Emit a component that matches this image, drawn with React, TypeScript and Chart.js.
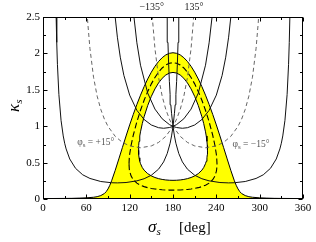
import React, { useEffect, useRef } from "react";
import { Chart, registerables } from "chart.js";

Chart.register(...registerables);

// ---- axis ticks ----
const xTickValues = [0, 60, 120, 180, 240, 300, 360];
const xTickLabels = ["0", "60", "120", "180", "240", "300", "360"];
const yTickValues = [0, 0.5, 1, 1.5, 2, 2.5];
const yTickLabels = ["0", "0.5", "1", "1.5", "2", "2.5"];
const xMarkValues = [0, 30, 60, 90, 120, 150, 180, 210, 240, 270, 300, 330, 360];
const yMarkValues = [0, 0.25, 0.5, 0.75, 1, 1.25, 1.5, 1.75, 2, 2.25, 2.5];

// ---- yellow band: outer edge ----
const outerSigma = [0, 30, 40, 50, 60, 70, 75, 80, 85, 87.5, 90, 92.5, 95, 100, 105, 110, 115, 120, 125, 130, 135, 140, 145, 150, 155, 160, 165, 170, 175, 180,
  185, 190, 195, 200, 205, 210, 215, 220, 225, 230, 235, 240, 245, 250, 255, 260, 265, 267.5, 270, 272.5, 275, 280, 285, 290, 300, 310, 320, 330, 360];
const outerKappa = [0.010, 0.012, 0.013, 0.016, 0.020, 0.028, 0.036, 0.051, 0.079, 0.105, 0.142, 0.192, 0.254, 0.398, 0.554, 0.712, 0.868, 1.020, 1.164, 1.301, 1.428, 1.545, 1.651, 1.744, 1.824, 1.890, 1.942, 1.980, 2.002, 2.010,
  2.002, 1.980, 1.942, 1.890, 1.824, 1.744, 1.651, 1.545, 1.428, 1.301, 1.164, 1.020, 0.868, 0.712, 0.554, 0.398, 0.254, 0.192, 0.142, 0.105, 0.079, 0.051, 0.036, 0.028, 0.020, 0.016, 0.013, 0.012, 0.010];

// ---- yellow band: inner edge (upper and lower halves) ----
const innerSigma = [132.27, 132.5, 133, 134, 135, 137.5, 140, 145, 150, 155, 160, 165, 170, 175, 180, 185, 190, 195, 200, 205, 210, 215, 220, 222.5, 225, 226, 227, 227.5, 227.73];
const innerKappaHigh = [0.6726, 0.7388, 0.7947, 0.8685, 0.9253, 1.0393, 1.1326, 1.2867, 1.4115, 1.5138, 1.5959, 1.6592, 1.7041, 1.7310, 1.74, 1.7310, 1.7041, 1.6592, 1.5959, 1.5138, 1.4115, 1.2867, 1.1326, 1.0393, 0.9253, 0.8685, 0.7947, 0.7388, 0.6726];
const innerKappaLow = [0.6726, 0.6124, 0.5693, 0.5209, 0.4889, 0.4353, 0.3994, 0.3517, 0.3205, 0.2988, 0.2835, 0.2726, 0.2655, 0.2614, 0.26, 0.2614, 0.2655, 0.2726, 0.2835, 0.2988, 0.3205, 0.3517, 0.3994, 0.4353, 0.4889, 0.5209, 0.5693, 0.6124, 0.6726];

// ---- dashed central value (closed loop) ----
const midSigma = [119.07, 119.5, 120, 122, 125, 130, 135, 140, 145, 150, 155, 160, 165, 170, 175, 180, 185, 190, 195, 200, 205, 210, 215, 220, 225, 230, 235, 238, 240, 240.5, 240.93,
  240.5, 240, 238, 235, 230, 225, 220, 215, 210, 205, 200, 195, 190, 185, 180, 175, 170, 165, 160, 155, 150, 145, 140, 135, 130, 125, 122, 120, 119.5, 119.07];
const midKappa = [0.4859, 0.5724, 0.6179, 0.7413, 0.8784, 1.0636, 1.2208, 1.3582, 1.4787, 1.5829, 1.6713, 1.7440, 1.8007, 1.8414, 1.8659, 1.874, 1.8659, 1.8414, 1.8007, 1.7440, 1.6713, 1.5829, 1.4787, 1.3582, 1.2208, 1.0636, 0.8784, 0.7413, 0.6179, 0.5724, 0.4859,
  0.4124, 0.3821, 0.3185, 0.2688, 0.2220, 0.1934, 0.1738, 0.1597, 0.1491, 0.1413, 0.1354, 0.1311, 0.1282, 0.1265, 0.126, 0.1265, 0.1282, 0.1311, 0.1354, 0.1413, 0.1491, 0.1597, 0.1738, 0.1934, 0.2220, 0.2688, 0.3185, 0.3821, 0.4124, 0.4859];

// ---- constant-phase curves (solid) ----
const phaseAKappa = [3.225, 2.581, 2.152, 1.846, 1.438, 1.082, 0.869, 0.769, 0.691, 0.553, 0.425, 0.336, 0.286, 0.244, 0.227, 0.225, 0.230, 0.253, 0.282, 0.330, 0.413, 0.513, 0.628, 0.769, 0.869, 1.0, 1.179, 1.296, 1.438, 1.616, 1.846, 2.152, 2.581, 3.225];
const phaseALeftSigma = [17, 18, 19, 20, 22, 25, 28, 30, 32, 37, 45, 55, 65, 80, 95, 103, 115, 130, 140, 150, 160, 167, 172, 176, 178, 180, 182, 183, 184, 185, 186, 187, 188, 189];
const phaseARightSigma = [343, 342, 341, 340, 338, 335, 332, 330, 328, 323, 315, 305, 295, 280, 265, 257, 245, 230, 220, 210, 200, 193, 188, 184, 182, 180, 178, 177, 176, 175, 174, 173, 172, 171];

const phaseBKappa = [2.993, 2.849, 2.719, 2.494, 2.223, 1.949, 1.699, 1.429, 1.220, 1.094, 1.019, 0.982, 0.974, 0.984, 1.0, 1.025, 1.104, 1.237, 1.456, 1.839, 2.146, 2.494, 2.719, 2.849, 2.993];
const phaseBLeftSigma = [96, 97, 98, 100, 103, 107, 112, 120, 130, 140, 150, 160, 167, 175, 180, 185, 195, 205, 215, 225, 230, 234, 236, 237, 238];
const phaseBRightSigma = [264, 263, 262, 260, 257, 253, 248, 240, 230, 220, 210, 200, 193, 185, 180, 175, 165, 155, 145, 135, 130, 126, 124, 123, 122];

// ---- constant-phase curves (dashed, labelled) ----
const phaseCKappa = [3.143, 2.923, 2.732, 2.419, 2.067, 1.673, 1.414, 1.233, 1.100, 1.0, 0.863, 0.780, 0.732, 0.707, 0.732, 0.780, 0.863, 1.0, 1.100, 1.233, 1.414, 1.673, 2.067, 2.419, 2.732, 2.923, 3.143];
const phaseCLeftSigma = [58, 59, 60, 62, 65, 70, 75, 80, 85, 90, 100, 110, 120, 135, 150, 160, 170, 180, 185, 190, 195, 200, 205, 208, 210, 211, 212];
const phaseCRightSigma = [302, 301, 300, 298, 295, 290, 285, 280, 275, 270, 260, 250, 240, 225, 210, 200, 190, 180, 175, 170, 165, 160, 155, 152, 150, 149, 148];

// ---- text annotations ----
const annotations = [
  { text: "\u2212135\u00b0", sigma: 150.5, kappa: 2.63, sub: "", pre: "" },
  { text: "135\u00b0", sigma: 209, kappa: 2.63, sub: "", pre: "" },
  { text: " = +15\u00b0", sigma: 73, kappa: 0.775, sub: "s", pre: "\u03c6" },
  { text: " = \u221215\u00b0", sigma: 288, kappa: 0.745, sub: "s", pre: "\u03c6" },
];

const SERIF = "'Liberation Serif', 'Times New Roman', serif";

function pts(xs: number[], ys: number[]) {
  return xs.map((x, i) => ({ x, y: ys[i] }));
}

const decorPlugin = {
  id: "decor",
  afterDraw(chart: any) {
    const { ctx, chartArea: a, scales } = chart;
    const xs = scales.x;
    const ys = scales.y;
    ctx.save();
    ctx.strokeStyle = "#000";
    ctx.lineWidth = 1;
    const L = Math.round(a.left) + 0.5;
    const R = Math.round(a.right) - 0.5;
    const T = Math.round(a.top) + 0.5;
    const B = Math.round(a.bottom) - 0.5;
    ctx.beginPath();
    for (const v of xMarkValues) {
      const px = Math.round(xs.getPixelForValue(v)) + 0.5;
      const len = v % 60 === 0 ? 4 : 2.5;
      ctx.moveTo(px, B); ctx.lineTo(px, B - len);
      ctx.moveTo(px, T); ctx.lineTo(px, T + len);
    }
    for (const v of yMarkValues) {
      const py = Math.round(ys.getPixelForValue(v)) + 0.5;
      const len = Math.abs(v * 2 - Math.round(v * 2)) < 1e-6 ? 4 : 2.5;
      ctx.moveTo(L, py); ctx.lineTo(L + len, py);
      ctx.moveTo(R, py); ctx.lineTo(R - len, py);
    }
    ctx.stroke();
    ctx.strokeRect(L, T, R - L, B - T);

    // axis titles
    ctx.fillStyle = "#000";
    ctx.textBaseline = "alphabetic";
    ctx.textAlign = "left";
    let x0 = 148;
    const yb = 232;
    ctx.font = `italic 17px ${SERIF}`;
    ctx.fillText("\u03c3", x0, yb);
    x0 += ctx.measureText("\u03c3").width;
    ctx.font = `italic 11px ${SERIF}`;
    ctx.fillText("s", x0, yb + 3);
    ctx.font = `15px ${SERIF}`;
    ctx.fillText("[deg]", 179, yb);

    ctx.save();
    ctx.translate(19, 112);
    ctx.rotate(-Math.PI / 2);
    ctx.font = `italic 17px ${SERIF}`;
    ctx.fillText("\u03ba", 0, 0);
    const kw = ctx.measureText("\u03ba").width;
    ctx.font = `italic 11px ${SERIF}`;
    ctx.fillText("s", kw, 3);
    ctx.restore();

    // annotations
    for (const an of annotations) {
      const px = xs.getPixelForValue(an.sigma);
      const py = ys.getPixelForValue(an.kappa);
      ctx.textBaseline = "middle";
      if (!an.pre) {
        ctx.font = `10px ${SERIF}`;
        ctx.fillStyle = "#222";
        ctx.textAlign = "center";
        ctx.fillText(an.text, px, py);
      } else {
        ctx.fillStyle = "#555";
        ctx.textAlign = "left";
        ctx.font = `9.5px ${SERIF}`;
        const w1 = ctx.measureText(an.pre).width;
        ctx.font = `7px ${SERIF}`;
        const w2 = ctx.measureText(an.sub).width;
        ctx.font = `9.5px ${SERIF}`;
        const w3 = ctx.measureText(an.text).width;
        let sx = px - (w1 + w2 + w3) / 2;
        ctx.fillText(an.pre, sx, py);
        sx += w1;
        ctx.font = `7px ${SERIF}`;
        ctx.fillText(an.sub, sx, py + 2);
        sx += w2;
        ctx.font = `9.5px ${SERIF}`;
        ctx.fillText(an.text, sx, py);
      }
    }
    ctx.restore();
  },
};

export default function App() {
  const ref = useRef<HTMLCanvasElement | null>(null);
  useEffect(() => {
    if (!ref.current) return;
    const solid = { borderColor: "#111", borderWidth: 1, fill: false, order: 1 };
    const dashed = { borderColor: "#555", borderWidth: 0.9, borderDash: [4, 3], fill: false, order: 1 };
    const chart = new Chart(ref.current, {
      type: "line",
      data: {
        datasets: [
          { data: pts(outerSigma, outerKappa), borderColor: "#000", borderWidth: 1, backgroundColor: "#ffff00", fill: "origin", order: 10 },
          { data: pts(innerSigma, innerKappaHigh), borderColor: "#000", borderWidth: 1, backgroundColor: "#ffffff", fill: "+1", order: 9 },
          { data: pts(innerSigma, innerKappaLow), borderColor: "#000", borderWidth: 1, fill: false, order: 8 },
          { data: pts(midSigma, midKappa), borderColor: "#000", borderWidth: 1.1, borderDash: [6, 3], fill: false, order: 5 },
          { data: pts(phaseALeftSigma, phaseAKappa), ...solid },
          { data: pts(phaseARightSigma, phaseAKappa), ...solid },
          { data: pts(phaseBLeftSigma, phaseBKappa), ...solid },
          { data: pts(phaseBRightSigma, phaseBKappa), ...solid },
          { data: pts(phaseCLeftSigma, phaseCKappa), ...dashed },
          { data: pts(phaseCRightSigma, phaseCKappa), ...dashed },
        ] as any,
      },
      options: {
        animation: false,
        responsive: false,
        maintainAspectRatio: false,
        events: [],
        layout: { padding: { top: 17, right: 13, left: 0, bottom: 0 } },
        elements: { point: { radius: 0 }, line: { tension: 0 } },
        plugins: { legend: { display: false }, tooltip: { enabled: false }, filler: { propagate: false } },
        scales: {
          x: {
            type: "linear",
            min: 0,
            max: 360,
            afterFit: (s: any) => { s.height = 42.7; },
            afterBuildTicks: (s: any) => { s.ticks = xTickValues.map((v) => ({ value: v })); },
            grid: { display: false, drawTicks: false },
            border: { display: false },
            ticks: {
              padding: 2, color: "#000", font: { family: SERIF, size: 11 }, maxRotation: 0, autoSkip: false,
              callback: (_v: any, i: number) => xTickLabels[i],
            },
          },
          y: {
            type: "linear",
            min: 0,
            max: 2.5,
            afterFit: (s: any) => { s.width = 43; },
            afterBuildTicks: (s: any) => { s.ticks = yTickValues.map((v) => ({ value: v })); },
            grid: { display: false, drawTicks: false },
            border: { display: false },
            ticks: {
              padding: 3, color: "#000", font: { family: SERIF, size: 11 }, autoSkip: false,
              callback: (_v: any, i: number) => yTickLabels[i],
            },
          },
        },
      } as any,
      plugins: [decorPlugin],
    });
    return () => chart.destroy();
  }, []);
  return (
    <div style={{ position: "fixed", left: 0, top: 0, width: 316, height: 242, background: "#fff" }}>
      <canvas ref={ref} width={316} height={242} style={{ width: 316, height: 242, display: "block" }} />
    </div>
  );
}
